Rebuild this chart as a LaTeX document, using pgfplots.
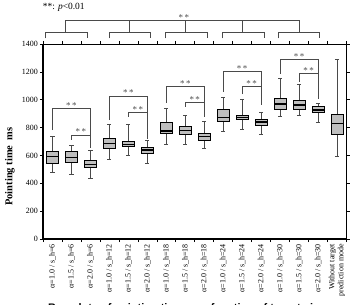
\documentclass[border=0pt]{standalone}
\usepackage{fontspec}
\setmainfont{Liberation Serif}
\setsansfont{Liberation Sans}
\usepackage{pgfplots}
\pgfplotsset{compat=1.18}
\usepgfplotslibrary{statistics}

\definecolor{boxgray}{HTML}{BEBEBE}
\definecolor{linegray}{HTML}{4A4A4A}
\definecolor{figblue}{HTML}{1E8FD5}

% one prepared box: position, lower whisker, Q1, median, Q3, upper whisker
\newcommand{\bx}[6]{\addplot[boxplot prepared={draw position=#1,
  lower whisker=#2, lower quartile=#3, median=#4,
  upper quartile=#5, upper whisker=#6}] coordinates {};}
% significance bracket: left x, left leg end, right x, right leg end, top
\newcommand{\brk}[5]{%
  \draw[linegray, line width=0.6bp] (axis cs:#1,#2) -- (axis cs:#1,#5)
    -- (axis cs:#3,#5) -- (axis cs:#3,#4);
  \node[anchor=base, inner sep=0pt, text=linegray, font=\fontsize{9}{9}\selectfont]
    at (axis cs:{(#1+#3)/2},#5) {*\,*};}

\begin{document}
\begin{tikzpicture}
\begin{axis}[
  scale only axis, width=303.5bp, height=195bp,
  xmin=-0.5, xmax=15.5, ymin=0, ymax=1400,
  clip=false,
  ytick={0,200,...,1400},
  xtick={0,...,15},
  xticklabels={
    α=1.0 / s\_h=6, α=1.5 / s\_h=6, α=2.0 / s\_h=6,
    α=1.0 / s\_h=12, α=1.5 / s\_h=12, α=2.0 / s\_h=12,
    α=1.0 / s\_h=18, α=1.5 / s\_h=18, α=2.0 / s\_h=18,
    α=1.0 / s\_h=24, α=1.5 / s\_h=24, α=2.0 / s\_h=24,
    α=1.0 / s\_h=30, α=1.5 / s\_h=30, α=2.0 / s\_h=30,
    {Without target\\prediction mode}},
  minor xtick={-0.5,0.5,...,15.5},
  major x tick style={draw=none},
  minor x tick style={black, line width=0.6bp},
  y tick style={black, line width=0.6bp},
  tick align=outside,
  major tick length=3bp, minor tick length=3bp,
  axis line style={line width=0.5bp},
  tick label style={font=\fontsize{8}{9}\selectfont},
  xticklabel style={rotate=90, anchor=east, align=right, inner sep=2pt},
  yticklabel style={inner sep=2pt},
  /pgf/number format/assume math mode=true,
  /pgf/number format/1000 sep={},
  boxplot/draw direction=y,
  boxplot/box extend=0.64,
  boxplot/whisker extend=0.22,
  boxplot/every box/.style={draw=black, fill=boxgray, line width=0.6bp},
  boxplot/every whisker/.style={draw=linegray, line width=0.6bp},
  boxplot/every median/.style={draw=black, line width=1.2bp},
]
\bx{0}{479}{543}{591}{627}{739}
\bx{1}{467}{553}{586}{627}{675}
\bx{2}{436}{515}{536}{567}{634}
\bx{3}{574}{648}{687}{720}{826}
\bx{4}{601}{668}{680}{698}{826}
\bx{5}{543}{615}{639}{655}{706}
\bx{6}{682}{756}{775}{838}{940}
\bx{7}{680}{754}{780}{806}{885}
\bx{8}{648}{708}{734}{756}{842}
\bx{9}{770}{845}{873}{931}{1014}
\bx{10}{787}{859}{873}{885}{1003}
\bx{11}{754}{816}{840}{859}{909}
\bx{12}{883}{933}{969}{1010}{1154}
\bx{13}{885}{933}{962}{993}{1110}
\bx{14}{840}{909}{926}{950}{974}
\bx{15}{591}{749}{830}{895}{1290}

% comparisons within each s_h group
\brk{0}{782}{2}{653}{935}
\brk{1}{711}{2}{653}{747}
\brk{3}{854}{5}{716}{1027}
\brk{4}{878}{5}{716}{909}
\brk{6}{978}{8}{878}{1095}
\brk{7}{950}{8}{878}{981}
\brk{9}{1057}{11}{962}{1201}
\brk{10}{1041}{11}{962}{1094}
\brk{12}{1185}{14}{1003}{1292}
\brk{13}{1129}{14}{1003}{1190}

% comparison between the s_h groups
\begin{scope}[linegray, line width=0.6bp]
  \draw (axis cs:-0.36,1441) -- (axis cs:-0.36,1486) -- (axis cs:1.84,1486) -- (axis cs:1.84,1441);
  \draw (axis cs:2.98,1441) -- (axis cs:2.98,1486) -- (axis cs:5.14,1486) -- (axis cs:5.14,1441);
  \draw (axis cs:5.97,1441) -- (axis cs:5.97,1486) -- (axis cs:8.16,1486) -- (axis cs:8.16,1441);
  \draw (axis cs:8.97,1441) -- (axis cs:8.97,1486) -- (axis cs:11.15,1486) -- (axis cs:11.15,1441);
  \draw (axis cs:11.90,1441) -- (axis cs:11.90,1486) -- (axis cs:14.07,1486) -- (axis cs:14.07,1441);
  \draw (axis cs:0.66,1486) -- (axis cs:0.66,1567) -- (axis cs:12.99,1567) -- (axis cs:12.99,1486);
  \draw (axis cs:4.05,1486) -- (axis cs:4.05,1567);
  \draw (axis cs:7.02,1486) -- (axis cs:7.02,1567);
  \draw (axis cs:10.03,1486) -- (axis cs:10.03,1567);
\end{scope}
\node[anchor=base, inner sep=0pt, text=linegray, font=\fontsize{9}{9}\selectfont]
  at (axis cs:6.93,1567) {*\,*};
\node[anchor=base west, inner sep=0pt, font=\fontsize{9.5}{10}\selectfont]
  at (axis cs:-0.52,1651) {**: \textit{p}<0.01};

% heavier left and bottom axis lines
\draw[black, line width=1.3bp] (rel axis cs:0,1) -- (rel axis cs:0,0) -- (rel axis cs:1,0);

\node[rotate=90, inner sep=0pt, font=\bfseries\fontsize{10.5}{12}\selectfont]
  at (axis cs:-2.24,520) {Pointing time\ \ ms};
\end{axis}

% figure caption, running below the page edge
\node[overlay, anchor=base west, inner sep=0pt, text=figblue,
  font=\sffamily\bfseries\fontsize{7.5}{9}\selectfont]
  at (-43bp,-72.5bp) {FIGURE 8.};
\node[overlay, anchor=base west, inner sep=0pt,
  font=\sffamily\bfseries\fontsize{11}{13}\selectfont]
  at (5bp,-72.5bp) {Box plots of pointing time as a function of target size};
\path (-43bp,-66bp) rectangle (308bp,239bp);
\end{tikzpicture}
\end{document}
